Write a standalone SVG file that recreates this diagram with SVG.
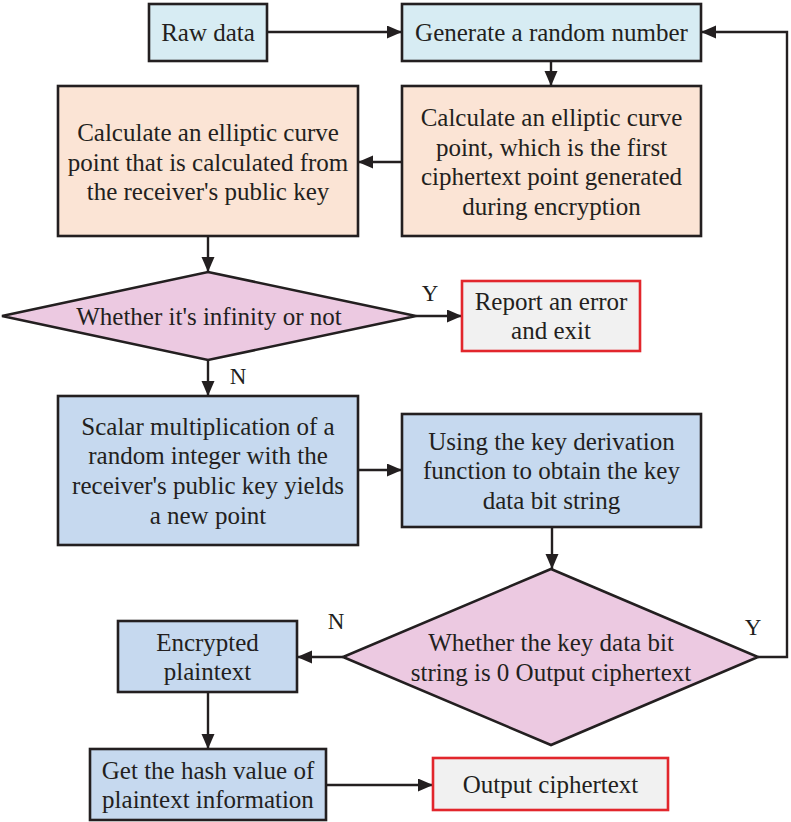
<svg xmlns="http://www.w3.org/2000/svg" width="791" height="822" viewBox="0 0 791 822">
<defs>
<style>
.box{stroke:#231f20;stroke-width:2.6}
.lb{fill:#d7ecf3}
.or{fill:#fbe4d5}
.pk{fill:#ecc9e1}
.bl{fill:#c6d9ef}
.gr{fill:#f1f1f1;stroke:#e2262c;stroke-width:2.6}
text{font-family:"Liberation Serif","Times New Roman",serif;font-size:25px;fill:#231f20;text-anchor:middle}
.lab{font-size:23px}
.con{fill:none;stroke:#231f20;stroke-width:2.4}
</style>
<marker id="ah" markerUnits="userSpaceOnUse" markerWidth="16" markerHeight="14" refX="15" refY="6.5" orient="auto">
<path d="M0,0 L15,6.5 L0,13 z" fill="#231f20"/>
</marker>
</defs>
<rect width="791" height="822" fill="#ffffff"/>
<g id="connectors">
<line class="con" x1="267" y1="32" x2="402" y2="32" marker-end="url(#ah)"/>
<polyline class="con" points="758,657 787,657 787,32 701,32" marker-end="url(#ah)"/>
<line class="con" x1="551" y1="61" x2="551" y2="86" marker-end="url(#ah)"/>
<line class="con" x1="402" y1="162" x2="358" y2="162" marker-end="url(#ah)"/>
<line class="con" x1="208" y1="236" x2="208" y2="272" marker-end="url(#ah)"/>
<line class="con" x1="416" y1="316" x2="462" y2="316" marker-end="url(#ah)"/>
<line class="con" x1="208" y1="360" x2="208" y2="396" marker-end="url(#ah)"/>
<line class="con" x1="358" y1="470" x2="402" y2="470" marker-end="url(#ah)"/>
<line class="con" x1="552" y1="527" x2="552" y2="569" marker-end="url(#ah)"/>
<line class="con" x1="343" y1="657" x2="297" y2="657" marker-end="url(#ah)"/>
<line class="con" x1="208" y1="692" x2="208" y2="749" marker-end="url(#ah)"/>
<line class="con" x1="326" y1="785" x2="433" y2="785" marker-end="url(#ah)"/>
<text class="lab" x="430" y="301">Y</text>
<text class="lab" x="238" y="384">N</text>
<text class="lab" x="336" y="629">N</text>
<text class="lab" x="753" y="635">Y</text>
</g>
<g id="raw">
<rect class="box lb" x="149" y="4" width="118" height="57"/>
<text x="208" y="41">Raw data</text>
</g>
<g id="generate">
<rect class="box lb" x="402" y="4" width="299" height="57"/>
<text x="551.5" y="41">Generate a random number</text>
</g>
<g id="calc1">
<rect class="box or" x="402" y="86" width="299" height="150"/>
<text x="551.5" y="126">Calculate an elliptic curve</text>
<text x="551.5" y="155.7">point, which is the first</text>
<text x="551.5" y="185.4">ciphertext point generated</text>
<text x="551.5" y="215.1">during encryption</text>
</g>
<g id="calc2">
<rect class="box or" x="58" y="86" width="300" height="150"/>
<text x="208" y="140.8">Calculate an elliptic curve</text>
<text x="208" y="170.5">point that is calculated from</text>
<text x="208" y="200.2">the receiver's public key</text>
</g>
<g id="infinity">
<polygon class="box pk" points="208,272 416,316 208,360 2,316"/>
<text x="209" y="324.5">Whether it's infinity or not</text>
</g>
<g id="report">
<rect class="gr" x="462" y="281" width="178" height="70"/>
<text x="551" y="309.7">Report an error</text>
<text x="551" y="339.4">and exit</text>
</g>
<g id="scalar">
<rect class="box bl" x="58" y="396" width="300" height="149"/>
<text x="208" y="434.5">Scalar multiplication of a</text>
<text x="208" y="464.2">random integer with the</text>
<text x="208" y="493.9">receiver's public key yields</text>
<text x="208" y="523.6">a new point</text>
</g>
<g id="kdf">
<rect class="box bl" x="402" y="414" width="299" height="113"/>
<text x="551.5" y="449.5">Using the key derivation</text>
<text x="551.5" y="479">function to obtain the key</text>
<text x="551.5" y="508.5">data bit string</text>
</g>
<g id="zero">
<polygon class="box pk" points="551,569 758,657 551,745 343,657"/>
<text x="551" y="651">Whether the key data bit</text>
<text x="551" y="681">string is 0 Output ciphertext</text>
</g>
<g id="encrypted">
<rect class="box bl" x="118" y="621" width="179" height="71"/>
<text x="207.5" y="650.5">Encrypted</text>
<text x="207.5" y="680">plaintext</text>
</g>
<g id="hash">
<rect class="box bl" x="90" y="749" width="236" height="71"/>
<text x="208" y="778.5">Get the hash value of</text>
<text x="208" y="808">plaintext information</text>
</g>
<g id="output">
<rect class="gr" x="433" y="758" width="235" height="52"/>
<text x="550.5" y="792.5">Output ciphertext</text>
</g>
</svg>
